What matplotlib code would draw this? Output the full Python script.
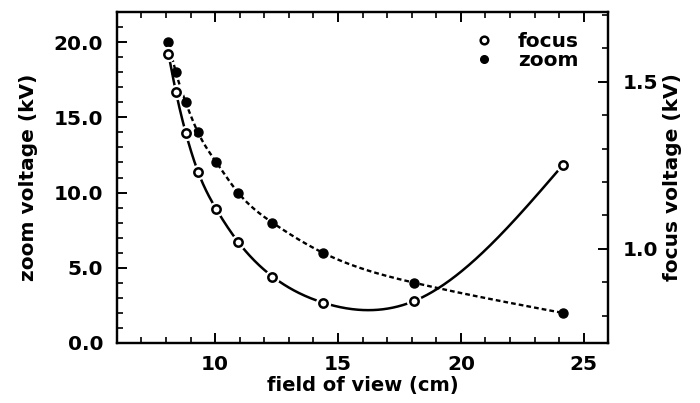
import numpy as np
import matplotlib
matplotlib.use("Agg")
import matplotlib.pyplot as plt
from matplotlib.lines import Line2D
from matplotlib.ticker import MultipleLocator

# field of view (cm), shared by both series
fov = [8.1, 8.4, 8.8, 9.3, 10.05, 10.93, 12.33, 14.38, 18.11, 24.14]
zoom_kv = [20.0, 18.0, 16.0, 14.0, 12.0, 10.0, 8.0, 6.0, 4.0, 2.0]
focus_kv = [1.583, 1.471, 1.348, 1.231, 1.118, 1.021, 0.917, 0.839, 0.844, 1.25]

xticks = [10, 15, 20, 25]
zoom_ticks = [0, 5, 10, 15, 20]
focus_ticks = [1.0, 1.5]


def spline(x, y, xs):
    # natural cubic spline through the measured points
    x = np.asarray(x, float)
    y = np.asarray(y, float)
    n = len(x)
    h = np.diff(x)
    A = np.zeros((n, n))
    r = np.zeros(n)
    A[0, 0] = A[-1, -1] = 1
    for i in range(1, n - 1):
        A[i, i - 1] = h[i - 1]
        A[i, i] = 2 * (h[i - 1] + h[i])
        A[i, i + 1] = h[i]
        r[i] = 3 * ((y[i + 1] - y[i]) / h[i] - (y[i] - y[i - 1]) / h[i - 1])
    c = np.linalg.solve(A, r)
    b = np.diff(y) / h - h * (2 * c[:-1] + c[1:]) / 3
    d = np.diff(c) / (3 * h)
    idx = np.clip(np.searchsorted(x, xs) - 1, 0, n - 2)
    dx = xs - x[idx]
    return y[idx] + b[idx] * dx + c[idx] * dx ** 2 + d[idx] * dx ** 3


plt.rcParams["font.family"] = "DejaVu Sans"
plt.rcParams["font.weight"] = "bold"
fs = 14.5

fig = plt.figure(figsize=(7, 4.03), dpi=100)
ax = fig.add_axes([0.167, 0.149, 0.702, 0.821])
ax2 = ax.twinx()

xs = np.linspace(fov[0], fov[-1], 400)

# zoom: filled dots, short dashed curve (left axis)
ax.plot(xs, spline(fov, zoom_kv, xs), color="black", lw=1.7,
        linestyle=(0, (2.0, 1.3)), zorder=2)
ax.plot(fov, zoom_kv, "o", color="black", ms=6.5, zorder=4)

# focus: open circles, solid curve (right axis)
ax2.plot(xs, spline(fov, focus_kv, xs), color="black", lw=1.8, zorder=2)
ax2.plot(fov, focus_kv, "o", color="white", ms=10, zorder=3)
ax2.plot(fov, focus_kv, "o", mfc="white", mec="black", mew=1.8, ms=6.0, zorder=4)

ax.set_xlim(6, 26)
ax.set_ylim(0, 22)
ax2.set_ylim(0.718, 1.709)

ax.set_xticks(xticks)
ax.set_yticks(zoom_ticks)
ax.set_yticklabels(["%.1f" % v for v in zoom_ticks])
ax2.set_yticks(focus_ticks)
ax2.set_yticklabels(["%.1f" % v for v in focus_ticks])
ax.xaxis.set_minor_locator(MultipleLocator(1))
ax.yaxis.set_minor_locator(MultipleLocator(1))
ax2.yaxis.set_minor_locator(MultipleLocator(0.1))

ax.tick_params(axis="x", which="both", direction="in", top=True, labelsize=fs, pad=9)
ax.tick_params(axis="y", which="both", direction="in", right=False, labelsize=fs, pad=10)
ax2.tick_params(axis="y", which="both", direction="in", labelsize=fs, pad=10)
for a in (ax, ax2):
    a.tick_params(which="major", length=7, width=1.4)
    a.tick_params(which="minor", length=4, width=1.2)
    for s in a.spines.values():
        s.set_linewidth(1.6)

ax.set_xlabel("field of view (cm)", fontsize=14, fontweight="bold", labelpad=1)
ax.set_ylabel("zoom voltage (kV)", fontsize=fs, fontweight="bold", labelpad=11)
ax2.set_ylabel("focus voltage (kV)", fontsize=fs, fontweight="bold", labelpad=4)

handles = [
    Line2D([], [], ls="none", marker="o", mfc="white", mec="black", mew=1.8, ms=5.5),
    Line2D([], [], ls="none", marker="o", color="black", ms=5.5),
]
ax2.legend(handles, ["focus", "zoom"], loc="upper right", frameon=False,
           fontsize=14.5, handlelength=0.8, handletextpad=1.3, labelspacing=0.0,
           borderaxespad=0.2, bbox_to_anchor=(0.965, 0.975))

fig.savefig("out.png", dpi=100)
